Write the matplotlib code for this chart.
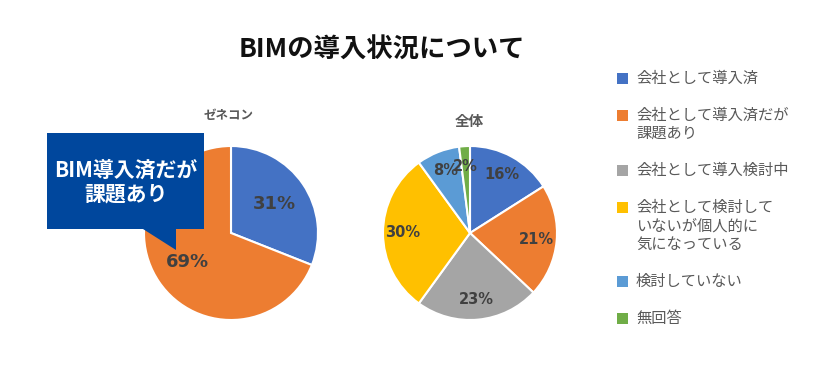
import matplotlib
matplotlib.use("Agg")
import matplotlib.pyplot as plt
from matplotlib.patches import Polygon, Rectangle

plt.rcParams['font.family'] = ['Noto Sans CJK JP', 'DejaVu Sans']

# ---- data ----
title = "BIMの導入状況について"
categories = ["会社として導入済",
              "会社として導入済だが\n課題あり",
              "会社として導入検討中",
              "会社として検討して\nいないが個人的に\n気になっている",
              "検討していない",
              "無回答"]
colors = ["#4472C4", "#ED7D31", "#A5A5A5", "#FFC000", "#5B9BD5", "#70AD47"]
genecon_title = "ゼネコン"
genecon_values = [31, 69]
total_title = "全体"
total_values = [16, 21, 23, 30, 8, 2]
callout_text = "BIM導入済だが\n課題あり"

W, H = 840, 378
fig = plt.figure(figsize=(W / 100, H / 100), dpi=100)
ax = fig.add_axes([0, 0, 1, 1])

def Y(y):
    return H - y

label_color = "#404040"
wp = dict(edgecolor="white", linewidth=1.5)

# left pie
ax.pie(genecon_values, colors=colors[:len(genecon_values)], startangle=90,
       counterclock=False, center=(231, Y(233)), radius=87,
       autopct='%.0f%%', pctdistance=0.6, wedgeprops=wp,
       textprops=dict(color=label_color, fontsize=13, fontweight='bold',
                      family=['DejaVu Sans']))

# right pie
ax.pie(total_values, colors=colors, startangle=90, counterclock=False,
       center=(470, Y(233)), radius=87,
       autopct='%.0f%%', pctdistance=0.77, wedgeprops=wp,
       textprops=dict(color=label_color, fontsize=10.5, fontweight='bold',
                      family=['DejaVu Sans']))

ax.set_xlim(0, W)
ax.set_ylim(0, H)
ax.set_aspect('equal')
ax.axis('off')

# titles
ax.text(382, Y(50), title, ha='center', va='center', fontsize=19,
        fontweight='bold', color='#111111')
ax.text(229, Y(115), genecon_title, ha='center', va='center', fontsize=9,
        fontweight='bold', color='#595959')
ax.text(469, Y(121), total_title, ha='center', va='center', fontsize=10.5,
        fontweight='bold', color='#595959')

# callout
pts = [(47, 133), (204, 133), (204, 229), (176, 229), (176, 250), (143, 229), (47, 229)]
ax.add_patch(Polygon([(x, Y(y)) for x, y in pts], closed=True,
                     facecolor="#00479D", edgecolor="none", zorder=5))
ax.text(126, Y(182), callout_text, ha='center', va='center', fontsize=15,
        fontweight='bold', color='white', zorder=6, linespacing=1.2)

# legend (manual)
y = 78
pitch = 18.5
gap = 18.5
for cat, col in zip(categories, colors):
    lines = cat.split("\n")
    ax.add_patch(Rectangle((617, Y(y) - 5.5), 11, 11, facecolor=col,
                           edgecolor='none'))
    for i, ln in enumerate(lines):
        ax.text(636, Y(y + i * pitch), ln, ha='left', va='center',
                fontsize=11, color='#595959')
    y += len(lines) * pitch + gap

fig.savefig("out.png", dpi=100)
